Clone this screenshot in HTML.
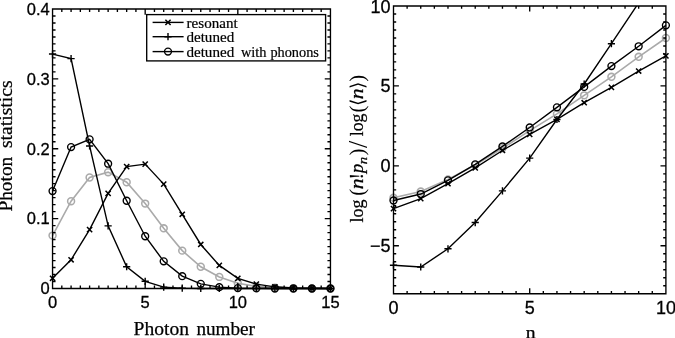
<!DOCTYPE html>
<html lang="en"><head><meta charset="utf-8"><title>Photon statistics</title>
<style>html,body{margin:0;padding:0;background:#fff}svg{display:block}</style></head>
<body>
<svg width="675" height="338" viewBox="0 0 675 338">
<rect width="675" height="338" fill="#fff"/>
<defs><clipPath id="cr"><rect x="387.5" y="6.0" width="284.4" height="287.7"/></clipPath></defs>
<g>
<polyline fill="none" stroke="#aaaaaa" stroke-width="1.6" points="52.55,235.6 71.08,201.16 89.6,177.47 108.13,172.16 126.66,182.22 145.18,203.6 163.71,228.34 182.24,250.63 200.76,266.77 219.29,276.9 237.82,283.26 256.34,286.4 274.87,287.66 293.4,288.22 311.92,288.43 330.45,288.5"/>
<circle cx="52.55" cy="235.6" r="3.45" fill="none" stroke="#aaaaaa" stroke-width="1.55"/>
<circle cx="71.08" cy="201.16" r="3.45" fill="none" stroke="#aaaaaa" stroke-width="1.55"/>
<circle cx="89.6" cy="177.47" r="3.45" fill="none" stroke="#aaaaaa" stroke-width="1.55"/>
<circle cx="108.13" cy="172.16" r="3.45" fill="none" stroke="#aaaaaa" stroke-width="1.55"/>
<circle cx="126.66" cy="182.22" r="3.45" fill="none" stroke="#aaaaaa" stroke-width="1.55"/>
<circle cx="145.18" cy="203.6" r="3.45" fill="none" stroke="#aaaaaa" stroke-width="1.55"/>
<circle cx="163.71" cy="228.34" r="3.45" fill="none" stroke="#aaaaaa" stroke-width="1.55"/>
<circle cx="182.24" cy="250.63" r="3.45" fill="none" stroke="#aaaaaa" stroke-width="1.55"/>
<circle cx="200.76" cy="266.77" r="3.45" fill="none" stroke="#aaaaaa" stroke-width="1.55"/>
<circle cx="219.29" cy="276.9" r="3.45" fill="none" stroke="#aaaaaa" stroke-width="1.55"/>
<circle cx="237.82" cy="283.26" r="3.45" fill="none" stroke="#aaaaaa" stroke-width="1.55"/>
<circle cx="256.34" cy="286.4" r="3.45" fill="none" stroke="#aaaaaa" stroke-width="1.55"/>
<circle cx="274.87" cy="287.66" r="3.45" fill="none" stroke="#aaaaaa" stroke-width="1.55"/>
<circle cx="293.4" cy="288.22" r="3.45" fill="none" stroke="#aaaaaa" stroke-width="1.55"/>
<circle cx="311.92" cy="288.43" r="3.45" fill="none" stroke="#aaaaaa" stroke-width="1.55"/>
<circle cx="330.45" cy="288.5" r="3.45" fill="none" stroke="#aaaaaa" stroke-width="1.55"/>
<polyline fill="none" stroke="#000" stroke-width="1.4" points="52.55,278.3 71.08,259.78 89.6,229.6 108.13,193.33 126.66,166.64 145.18,164.12 163.71,184.11 182.24,214.29 200.76,244.48 219.29,265.44 237.82,278.37 256.34,284.1 274.87,286.82 293.4,287.94 311.92,288.29 330.45,288.43"/>
<path stroke="#000" stroke-width="1.5" d="M49.95 275.7L55.15 280.9M49.95 280.9L55.15 275.7"/>
<path stroke="#000" stroke-width="1.5" d="M68.48 257.18L73.68 262.38M68.48 262.38L73.68 257.18"/>
<path stroke="#000" stroke-width="1.5" d="M87 227L92.2 232.2M87 232.2L92.2 227"/>
<path stroke="#000" stroke-width="1.5" d="M105.53 190.73L110.73 195.93M105.53 195.93L110.73 190.73"/>
<path stroke="#000" stroke-width="1.5" d="M124.06 164.04L129.26 169.24M124.06 169.24L129.26 164.04"/>
<path stroke="#000" stroke-width="1.5" d="M142.58 161.52L147.78 166.72M142.58 166.72L147.78 161.52"/>
<path stroke="#000" stroke-width="1.5" d="M161.11 181.51L166.31 186.71M161.11 186.71L166.31 181.51"/>
<path stroke="#000" stroke-width="1.5" d="M179.64 211.69L184.84 216.89M179.64 216.89L184.84 211.69"/>
<path stroke="#000" stroke-width="1.5" d="M198.16 241.88L203.36 247.08M198.16 247.08L203.36 241.88"/>
<path stroke="#000" stroke-width="1.5" d="M216.69 262.84L221.89 268.04M216.69 268.04L221.89 262.84"/>
<path stroke="#000" stroke-width="1.5" d="M235.22 275.77L240.42 280.97M235.22 280.97L240.42 275.77"/>
<path stroke="#000" stroke-width="1.5" d="M253.74 281.5L258.94 286.7M253.74 286.7L258.94 281.5"/>
<path stroke="#000" stroke-width="1.5" d="M272.27 284.22L277.47 289.42M272.27 289.42L277.47 284.22"/>
<path stroke="#000" stroke-width="1.5" d="M290.8 285.34L296 290.54M290.8 290.54L296 285.34"/>
<path stroke="#000" stroke-width="1.5" d="M309.32 285.69L314.52 290.89M309.32 290.89L314.52 285.69"/>
<path stroke="#000" stroke-width="1.5" d="M327.85 285.83L333.05 291.03M327.85 291.03L333.05 285.83"/>
<polyline fill="none" stroke="#000" stroke-width="1.4" points="52.55,54.07 71.08,58.61 89.6,145.96 108.13,225.89 126.66,266.77 145.18,281.3 163.71,287.1 182.24,288.15 200.76,288.43 219.29,288.5 237.82,288.5 256.34,288.5 274.87,288.5 293.4,288.5 311.92,288.5 330.45,288.5"/>
<path stroke="#000" stroke-width="1.4" d="M48.95 54.07L56.15 54.07M52.55 50.47L52.55 57.67"/>
<path stroke="#000" stroke-width="1.4" d="M67.48 58.61L74.68 58.61M71.08 55.01L71.08 62.21"/>
<path stroke="#000" stroke-width="1.4" d="M86 145.96L93.2 145.96M89.6 142.36L89.6 149.56"/>
<path stroke="#000" stroke-width="1.4" d="M104.53 225.89L111.73 225.89M108.13 222.29L108.13 229.49"/>
<path stroke="#000" stroke-width="1.4" d="M123.06 266.77L130.26 266.77M126.66 263.17L126.66 270.37"/>
<path stroke="#000" stroke-width="1.4" d="M141.58 281.3L148.78 281.3M145.18 277.7L145.18 284.9"/>
<path stroke="#000" stroke-width="1.4" d="M160.11 287.1L167.31 287.1M163.71 283.5L163.71 290.7"/>
<path stroke="#000" stroke-width="1.4" d="M178.64 288.15L185.84 288.15M182.24 284.55L182.24 291.75"/>
<path stroke="#000" stroke-width="1.4" d="M197.16 288.43L204.36 288.43M200.76 284.83L200.76 292.03"/>
<path stroke="#000" stroke-width="1.4" d="M215.69 288.5L222.89 288.5M219.29 284.9L219.29 292.1"/>
<path stroke="#000" stroke-width="1.4" d="M234.22 288.5L241.42 288.5M237.82 284.9L237.82 292.1"/>
<path stroke="#000" stroke-width="1.4" d="M252.74 288.5L259.94 288.5M256.34 284.9L256.34 292.1"/>
<path stroke="#000" stroke-width="1.4" d="M271.27 288.5L278.47 288.5M274.87 284.9L274.87 292.1"/>
<path stroke="#000" stroke-width="1.4" d="M289.8 288.5L297 288.5M293.4 284.9L293.4 292.1"/>
<path stroke="#000" stroke-width="1.4" d="M308.32 288.5L315.52 288.5M311.92 284.9L311.92 292.1"/>
<path stroke="#000" stroke-width="1.4" d="M326.85 288.5L334.05 288.5M330.45 284.9L330.45 292.1"/>
<polyline fill="none" stroke="#000" stroke-width="1.4" points="52.55,191.09 71.08,147.07 89.6,139.32 108.13,163.7 126.66,200.74 145.18,236.23 163.71,261.32 182.24,276.13 200.76,283.82 219.29,287.17 237.82,288.08 256.34,288.36 274.87,288.5 293.4,288.5 311.92,288.5 330.45,288.5"/>
<circle cx="52.55" cy="191.09" r="3.45" fill="none" stroke="#000" stroke-width="1.4"/>
<circle cx="71.08" cy="147.07" r="3.45" fill="none" stroke="#000" stroke-width="1.4"/>
<circle cx="89.6" cy="139.32" r="3.45" fill="none" stroke="#000" stroke-width="1.4"/>
<circle cx="108.13" cy="163.7" r="3.45" fill="none" stroke="#000" stroke-width="1.4"/>
<circle cx="126.66" cy="200.74" r="3.45" fill="none" stroke="#000" stroke-width="1.4"/>
<circle cx="145.18" cy="236.23" r="3.45" fill="none" stroke="#000" stroke-width="1.4"/>
<circle cx="163.71" cy="261.32" r="3.45" fill="none" stroke="#000" stroke-width="1.4"/>
<circle cx="182.24" cy="276.13" r="3.45" fill="none" stroke="#000" stroke-width="1.4"/>
<circle cx="200.76" cy="283.82" r="3.45" fill="none" stroke="#000" stroke-width="1.4"/>
<circle cx="219.29" cy="287.17" r="3.45" fill="none" stroke="#000" stroke-width="1.4"/>
<circle cx="237.82" cy="288.08" r="3.45" fill="none" stroke="#000" stroke-width="1.4"/>
<circle cx="256.34" cy="288.36" r="3.45" fill="none" stroke="#000" stroke-width="1.4"/>
<circle cx="274.87" cy="288.5" r="3.45" fill="none" stroke="#000" stroke-width="1.4"/>
<circle cx="293.4" cy="288.5" r="3.45" fill="none" stroke="#000" stroke-width="1.4"/>
<circle cx="311.92" cy="288.5" r="3.45" fill="none" stroke="#000" stroke-width="1.4"/>
<circle cx="330.45" cy="288.5" r="3.45" fill="none" stroke="#000" stroke-width="1.4"/>
</g>
<g clip-path="url(#cr)">
<polyline fill="none" stroke="#aaaaaa" stroke-width="1.6" points="393.5,197.8 420.74,191.57 447.98,179.42 475.22,165.03 502.46,148.25 529.7,130.67 556.94,113.89 584.18,95.35 611.42,76.81 638.66,56.83 665.9,37.97"/>
<circle cx="393.5" cy="197.8" r="3.45" fill="none" stroke="#aaaaaa" stroke-width="1.55"/>
<circle cx="420.74" cy="191.57" r="3.45" fill="none" stroke="#aaaaaa" stroke-width="1.55"/>
<circle cx="447.98" cy="179.42" r="3.45" fill="none" stroke="#aaaaaa" stroke-width="1.55"/>
<circle cx="475.22" cy="165.03" r="3.45" fill="none" stroke="#aaaaaa" stroke-width="1.55"/>
<circle cx="502.46" cy="148.25" r="3.45" fill="none" stroke="#aaaaaa" stroke-width="1.55"/>
<circle cx="529.7" cy="130.67" r="3.45" fill="none" stroke="#aaaaaa" stroke-width="1.55"/>
<circle cx="556.94" cy="113.89" r="3.45" fill="none" stroke="#aaaaaa" stroke-width="1.55"/>
<circle cx="584.18" cy="95.35" r="3.45" fill="none" stroke="#aaaaaa" stroke-width="1.55"/>
<circle cx="611.42" cy="76.81" r="3.45" fill="none" stroke="#aaaaaa" stroke-width="1.55"/>
<circle cx="638.66" cy="56.83" r="3.45" fill="none" stroke="#aaaaaa" stroke-width="1.55"/>
<circle cx="665.9" cy="37.97" r="3.45" fill="none" stroke="#aaaaaa" stroke-width="1.55"/>
<polyline fill="none" stroke="#000" stroke-width="1.4" points="393.5,208.67 420.74,198.6 447.98,183.73 475.22,167.91 502.46,150.49 529.7,134.35 556.94,119.32 584.18,102.7 611.42,87.36 638.66,71.05 665.9,55.87"/>
<path stroke="#000" stroke-width="1.5" d="M390.9 206.07L396.1 211.27M390.9 211.27L396.1 206.07"/>
<path stroke="#000" stroke-width="1.5" d="M418.14 196L423.34 201.2M418.14 201.2L423.34 196"/>
<path stroke="#000" stroke-width="1.5" d="M445.38 181.13L450.58 186.33M445.38 186.33L450.58 181.13"/>
<path stroke="#000" stroke-width="1.5" d="M472.62 165.31L477.82 170.51M472.62 170.51L477.82 165.31"/>
<path stroke="#000" stroke-width="1.5" d="M499.86 147.89L505.06 153.09M499.86 153.09L505.06 147.89"/>
<path stroke="#000" stroke-width="1.5" d="M527.1 131.75L532.3 136.95M527.1 136.95L532.3 131.75"/>
<path stroke="#000" stroke-width="1.5" d="M554.34 116.72L559.54 121.92M554.34 121.92L559.54 116.72"/>
<path stroke="#000" stroke-width="1.5" d="M581.58 100.1L586.78 105.3M581.58 105.3L586.78 100.1"/>
<path stroke="#000" stroke-width="1.5" d="M608.82 84.76L614.02 89.96M608.82 89.96L614.02 84.76"/>
<path stroke="#000" stroke-width="1.5" d="M636.06 68.45L641.26 73.65M636.06 73.65L641.26 68.45"/>
<path stroke="#000" stroke-width="1.5" d="M663.3 53.27L668.5 58.47M663.3 58.47L668.5 53.27"/>
<polyline fill="none" stroke="#000" stroke-width="1.4" points="393.5,265.25 420.74,267.01 447.98,248.79 475.22,222.57 502.46,190.85 529.7,158.16 556.94,119.48 584.18,84 611.42,43.72 638.66,2.8 665.9,-38.75"/>
<path stroke="#000" stroke-width="1.4" d="M389.9 265.25L397.1 265.25M393.5 261.65L393.5 268.85"/>
<path stroke="#000" stroke-width="1.4" d="M417.14 267.01L424.34 267.01M420.74 263.41L420.74 270.61"/>
<path stroke="#000" stroke-width="1.4" d="M444.38 248.79L451.58 248.79M447.98 245.19L447.98 252.39"/>
<path stroke="#000" stroke-width="1.4" d="M471.62 222.57L478.82 222.57M475.22 218.97L475.22 226.17"/>
<path stroke="#000" stroke-width="1.4" d="M498.86 190.85L506.06 190.85M502.46 187.25L502.46 194.45"/>
<path stroke="#000" stroke-width="1.4" d="M526.1 158.16L533.3 158.16M529.7 154.56L529.7 161.76"/>
<path stroke="#000" stroke-width="1.4" d="M553.34 119.48L560.54 119.48M556.94 115.88L556.94 123.08"/>
<path stroke="#000" stroke-width="1.4" d="M580.58 84L587.78 84M584.18 80.4L584.18 87.6"/>
<path stroke="#000" stroke-width="1.4" d="M607.82 43.72L615.02 43.72M611.42 40.12L611.42 47.32"/>
<path stroke="#000" stroke-width="1.4" d="M635.06 2.8L642.26 2.8M638.66 -0.8L638.66 6.4"/>
<path stroke="#000" stroke-width="1.4" d="M662.3 -38.75L669.5 -38.75M665.9 -42.35L665.9 -35.15"/>
<polyline fill="none" stroke="#000" stroke-width="1.4" points="393.5,200.52 420.74,194.04 447.98,180.35 475.22,164.33 502.46,146.41 529.7,127.47 556.94,107.33 584.18,86.88 611.42,66.1 638.66,46.28 665.9,25.34"/>
<circle cx="393.5" cy="200.52" r="3.45" fill="none" stroke="#000" stroke-width="1.4"/>
<circle cx="420.74" cy="194.04" r="3.45" fill="none" stroke="#000" stroke-width="1.4"/>
<circle cx="447.98" cy="180.35" r="3.45" fill="none" stroke="#000" stroke-width="1.4"/>
<circle cx="475.22" cy="164.33" r="3.45" fill="none" stroke="#000" stroke-width="1.4"/>
<circle cx="502.46" cy="146.41" r="3.45" fill="none" stroke="#000" stroke-width="1.4"/>
<circle cx="529.7" cy="127.47" r="3.45" fill="none" stroke="#000" stroke-width="1.4"/>
<circle cx="556.94" cy="107.33" r="3.45" fill="none" stroke="#000" stroke-width="1.4"/>
<circle cx="584.18" cy="86.88" r="3.45" fill="none" stroke="#000" stroke-width="1.4"/>
<circle cx="611.42" cy="66.1" r="3.45" fill="none" stroke="#000" stroke-width="1.4"/>
<circle cx="638.66" cy="46.28" r="3.45" fill="none" stroke="#000" stroke-width="1.4"/>
<circle cx="665.9" cy="25.34" r="3.45" fill="none" stroke="#000" stroke-width="1.4"/>
</g>
<path fill="none" stroke="#000" stroke-width="1.35" d="M52.55 9H330.45V288.5H52.55ZM61.81 288.5v-3 M61.81 9v3M71.08 288.5v-3 M71.08 9v3M80.34 288.5v-3 M80.34 9v3M89.6 288.5v-3 M89.6 9v3M98.87 288.5v-3 M98.87 9v3M108.13 288.5v-3 M108.13 9v3M117.39 288.5v-3 M117.39 9v3M126.66 288.5v-3 M126.66 9v3M135.92 288.5v-3 M135.92 9v3M145.18 288.5v-3 M145.18 9v3M154.45 288.5v-3 M154.45 9v3M163.71 288.5v-3 M163.71 9v3M172.97 288.5v-3 M172.97 9v3M182.24 288.5v-3 M182.24 9v3M191.5 288.5v-3 M191.5 9v3M200.76 288.5v-3 M200.76 9v3M210.03 288.5v-3 M210.03 9v3M219.29 288.5v-3 M219.29 9v3M228.55 288.5v-3 M228.55 9v3M237.82 288.5v-3 M237.82 9v3M247.08 288.5v-3 M247.08 9v3M256.34 288.5v-3 M256.34 9v3M265.61 288.5v-3 M265.61 9v3M274.87 288.5v-3 M274.87 9v3M284.13 288.5v-3 M284.13 9v3M293.4 288.5v-3 M293.4 9v3M302.66 288.5v-3 M302.66 9v3M311.92 288.5v-3 M311.92 9v3M321.19 288.5v-3 M321.19 9v3M52.55 281.51h3 M330.45 281.51h-3M52.55 274.52h3 M330.45 274.52h-3M52.55 267.54h3 M330.45 267.54h-3M52.55 260.55h3 M330.45 260.55h-3M52.55 253.56h3 M330.45 253.56h-3M52.55 246.57h3 M330.45 246.57h-3M52.55 239.59h3 M330.45 239.59h-3M52.55 232.6h3 M330.45 232.6h-3M52.55 225.61h3 M330.45 225.61h-3M52.55 218.62h3 M330.45 218.62h-3M52.55 211.64h3 M330.45 211.64h-3M52.55 204.65h3 M330.45 204.65h-3M52.55 197.66h3 M330.45 197.66h-3M52.55 190.68h3 M330.45 190.68h-3M52.55 183.69h3 M330.45 183.69h-3M52.55 176.7h3 M330.45 176.7h-3M52.55 169.71h3 M330.45 169.71h-3M52.55 162.73h3 M330.45 162.73h-3M52.55 155.74h3 M330.45 155.74h-3M52.55 148.75h3 M330.45 148.75h-3M52.55 141.76h3 M330.45 141.76h-3M52.55 134.78h3 M330.45 134.78h-3M52.55 127.79h3 M330.45 127.79h-3M52.55 120.8h3 M330.45 120.8h-3M52.55 113.81h3 M330.45 113.81h-3M52.55 106.83h3 M330.45 106.83h-3M52.55 99.84h3 M330.45 99.84h-3M52.55 92.85h3 M330.45 92.85h-3M52.55 85.86h3 M330.45 85.86h-3M52.55 78.88h3 M330.45 78.88h-3M52.55 71.89h3 M330.45 71.89h-3M52.55 64.9h3 M330.45 64.9h-3M52.55 57.91h3 M330.45 57.91h-3M52.55 50.93h3 M330.45 50.93h-3M52.55 43.94h3 M330.45 43.94h-3M52.55 36.95h3 M330.45 36.95h-3M52.55 29.96h3 M330.45 29.96h-3M52.55 22.98h3 M330.45 22.98h-3M52.55 15.99h3 M330.45 15.99h-3M145.18 288.5v-5.7 M145.18 9v5.7M237.82 288.5v-5.7 M237.82 9v5.7M52.55 218.62h5.7 M330.45 218.62h-5.7M52.55 148.75h5.7 M330.45 148.75h-5.7M52.55 78.88h5.7 M330.45 78.88h-5.7"/>
<path fill="none" stroke="#000" stroke-width="1.35" d="M393.5 6H665.9V293.7H393.5ZM407.12 293.7v-2.7 M407.12 6v2.7M420.74 293.7v-2.7 M420.74 6v2.7M434.36 293.7v-2.7 M434.36 6v2.7M447.98 293.7v-2.7 M447.98 6v2.7M461.6 293.7v-2.7 M461.6 6v2.7M475.22 293.7v-2.7 M475.22 6v2.7M488.84 293.7v-2.7 M488.84 6v2.7M502.46 293.7v-2.7 M502.46 6v2.7M516.08 293.7v-2.7 M516.08 6v2.7M529.7 293.7v-2.7 M529.7 6v2.7M543.32 293.7v-2.7 M543.32 6v2.7M556.94 293.7v-2.7 M556.94 6v2.7M570.56 293.7v-2.7 M570.56 6v2.7M584.18 293.7v-2.7 M584.18 6v2.7M597.8 293.7v-2.7 M597.8 6v2.7M611.42 293.7v-2.7 M611.42 6v2.7M625.04 293.7v-2.7 M625.04 6v2.7M638.66 293.7v-2.7 M638.66 6v2.7M652.28 293.7v-2.7 M652.28 6v2.7M393.5 285.71h2.7 M665.9 285.71h-2.7M393.5 277.72h2.7 M665.9 277.72h-2.7M393.5 269.73h2.7 M665.9 269.73h-2.7M393.5 261.73h2.7 M665.9 261.73h-2.7M393.5 253.74h2.7 M665.9 253.74h-2.7M393.5 245.75h2.7 M665.9 245.75h-2.7M393.5 237.76h2.7 M665.9 237.76h-2.7M393.5 229.77h2.7 M665.9 229.77h-2.7M393.5 221.77h2.7 M665.9 221.77h-2.7M393.5 213.78h2.7 M665.9 213.78h-2.7M393.5 205.79h2.7 M665.9 205.79h-2.7M393.5 197.8h2.7 M665.9 197.8h-2.7M393.5 189.81h2.7 M665.9 189.81h-2.7M393.5 181.82h2.7 M665.9 181.82h-2.7M393.5 173.82h2.7 M665.9 173.82h-2.7M393.5 165.83h2.7 M665.9 165.83h-2.7M393.5 157.84h2.7 M665.9 157.84h-2.7M393.5 149.85h2.7 M665.9 149.85h-2.7M393.5 141.86h2.7 M665.9 141.86h-2.7M393.5 133.87h2.7 M665.9 133.87h-2.7M393.5 125.88h2.7 M665.9 125.88h-2.7M393.5 117.88h2.7 M665.9 117.88h-2.7M393.5 109.89h2.7 M665.9 109.89h-2.7M393.5 101.9h2.7 M665.9 101.9h-2.7M393.5 93.91h2.7 M665.9 93.91h-2.7M393.5 85.92h2.7 M665.9 85.92h-2.7M393.5 77.92h2.7 M665.9 77.92h-2.7M393.5 69.93h2.7 M665.9 69.93h-2.7M393.5 61.94h2.7 M665.9 61.94h-2.7M393.5 53.95h2.7 M665.9 53.95h-2.7M393.5 45.96h2.7 M665.9 45.96h-2.7M393.5 37.97h2.7 M665.9 37.97h-2.7M393.5 29.97h2.7 M665.9 29.97h-2.7M393.5 21.98h2.7 M665.9 21.98h-2.7M393.5 13.99h2.7 M665.9 13.99h-2.7M529.7 293.7v-5.4 M529.7 6v5.4M393.5 245.75h5.4 M665.9 245.75h-5.4M393.5 165.83h5.4 M665.9 165.83h-5.4M393.5 85.92h5.4 M665.9 85.92h-5.4"/>
<g font-family="'Liberation Sans',Arial,Helvetica,sans-serif" font-size="16.5" fill="#000" stroke="#000" stroke-width="0.3">
<text x="49.65" y="294.3" text-anchor="end">0</text>
<text x="49.65" y="224.43" text-anchor="end">0.1</text>
<text x="49.65" y="154.55" text-anchor="end">0.2</text>
<text x="49.65" y="84.68" text-anchor="end">0.3</text>
<text x="49.65" y="14.8" text-anchor="end">0.4</text>
<text x="52.55" y="307.5" text-anchor="middle">0</text>
<text x="145.18" y="307.5" text-anchor="middle">5</text>
<text x="237.82" y="307.5" text-anchor="middle">10</text>
<text x="330.45" y="307.5" text-anchor="middle">15</text>
</g>
<g font-family="'Liberation Sans',Arial,Helvetica,sans-serif" font-size="18" fill="#000" stroke="#000" stroke-width="0.3">
<text x="390.6" y="12.5" text-anchor="end">10</text>
<text x="390.6" y="92.42" text-anchor="end">5</text>
<text x="390.6" y="172.33" text-anchor="end">0</text>
<text x="390.6" y="252.25" text-anchor="end">−5</text>
<text x="393.5" y="314.2" text-anchor="middle">0</text>
<text x="529.7" y="314.2" text-anchor="middle">5</text>
<text x="665.9" y="314.2" text-anchor="middle">10</text>
</g>
<g font-family="'Liberation Serif','Times New Roman',serif" fill="#000" stroke="#000" stroke-width="0.25">
<text y="334.5" font-size="18.5"><tspan x="133.6" textLength="55.4" lengthAdjust="spacingAndGlyphs">Photon</tspan> <tspan x="196.4" textLength="58.6" lengthAdjust="spacingAndGlyphs">number</tspan></text>
<text transform="translate(12 211.6) rotate(-90)" font-size="18.5"><tspan x="0" textLength="54.9" lengthAdjust="spacingAndGlyphs">Photon</tspan> <tspan x="63.5" textLength="67.7" lengthAdjust="spacingAndGlyphs">statistics</tspan></text>
<text x="525.8" y="337.5" font-size="16.5" textLength="9.8" lengthAdjust="spacingAndGlyphs">n</text>
<text transform="translate(363.4 222.5) rotate(-90)"><tspan x="0" y="0" font-size="18.5" textLength="23" lengthAdjust="spacingAndGlyphs">log</tspan><tspan x="26.7" y="0.2" font-size="20.5" stroke="none">(</tspan><tspan x="33.3" y="0" font-size="18.5" font-style="italic" textLength="10.8" lengthAdjust="spacingAndGlyphs">n</tspan><tspan x="43.2" y="0" font-size="18.5">!</tspan><tspan x="49.5" y="0" font-size="18.5" font-style="italic">p</tspan><tspan x="58.2" y="3.9" font-size="12.5" font-style="italic" textLength="7.4" lengthAdjust="spacingAndGlyphs">n</tspan><tspan x="66.9" y="0.2" font-size="20.5" stroke="none">)</tspan><tspan x="74.4" y="4" font-size="26.5" stroke="none">/</tspan><tspan x="86.2" y="0" font-size="18.5" textLength="22.8" lengthAdjust="spacingAndGlyphs">log</tspan><tspan x="110.1" y="0.2" font-size="20.5" stroke="none">(</tspan><tspan x="117" y="0.4" font-size="19" stroke="none">⟨</tspan><tspan x="123.3" y="0" font-size="18.5" font-style="italic" textLength="10.8" lengthAdjust="spacingAndGlyphs">n</tspan><tspan x="133.4" y="0.4" font-size="19" stroke="none">⟩</tspan><tspan x="140.8" y="0.2" font-size="20.5" stroke="none">)</tspan></text>
</g>
<rect x="146.7" y="14.6" width="178.9" height="46.3" fill="#fff" stroke="#000" stroke-width="1.35"/>
<path stroke="#000" stroke-width="1.4" d="M152.6 22.4H183.6"/>
<path stroke="#000" stroke-width="1.5" d="M165.4 19.8L170.6 25M165.4 25L170.6 19.8"/>
<path stroke="#000" stroke-width="1.4" d="M152.6 36.7H183.6"/>
<path stroke="#000" stroke-width="1.4" d="M164.4 36.7L171.6 36.7M168 33.1L168 40.3"/>
<path stroke="#000" stroke-width="1.4" d="M152.6 51.6H183.6"/>
<circle cx="168" cy="51.6" r="3.45" fill="none" stroke="#000" stroke-width="1.4"/>
<g font-family="'Liberation Serif','Times New Roman',serif" font-size="14" fill="#000" stroke="#000" stroke-width="0.2">
<text y="27.7"><tspan x="186.6" textLength="51" lengthAdjust="spacingAndGlyphs">resonant</tspan></text>
<text y="42"><tspan x="186.4" textLength="47.8" lengthAdjust="spacingAndGlyphs">detuned</tspan></text>
<text y="56.9"><tspan x="186.4" textLength="47.8" lengthAdjust="spacingAndGlyphs">detuned</tspan> <tspan x="240.9" textLength="25.6" lengthAdjust="spacingAndGlyphs">with</tspan> <tspan x="270.4" textLength="48.5" lengthAdjust="spacingAndGlyphs">phonons</tspan></text>
</g>
</svg>
</body></html>
